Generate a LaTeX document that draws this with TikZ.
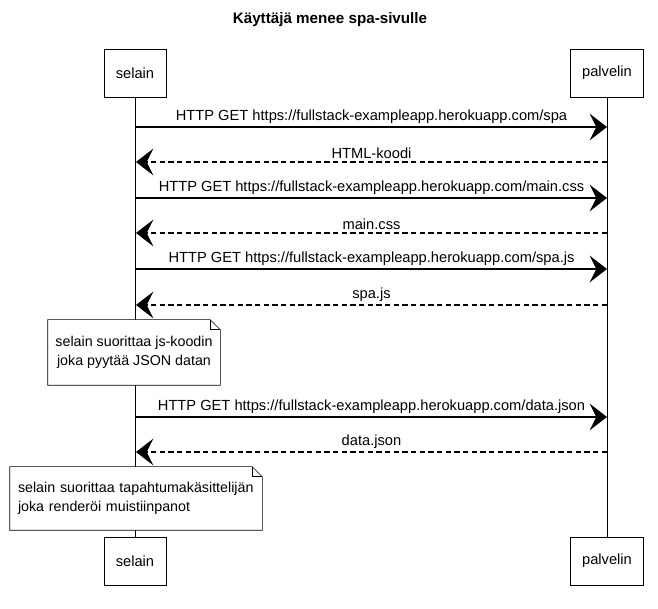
\documentclass[tikz,border=0pt]{standalone}
\usepackage{fontspec}
\setmainfont{Liberation Sans}
\usetikzlibrary{arrows.meta,positioning}
\tikzset{
  actor/.style={draw,fill=white,minimum height=36pt,inner sep=0pt},
  lifeline/.style={thin},
  req/.style={-{Stealth[length=13pt,width=20pt,inset=5pt]},line width=1pt},
  resp/.style={req,line width=.8pt,dash pattern=on 4pt off 2.5pt},
  msg/.style={above=1pt,inner sep=1pt},
  notebox/.style={fill=white,inner ysep=0pt,font=\fontsize{10.7}{14}\selectfont}
}
\begin{document}
\begin{tikzpicture}[x=.75pt,y=-.75pt,font=\fontsize{11}{13}\selectfont]
\useasboundingbox (0,0) rectangle (658,609);
\node[font=\fontsize{11.4}{13}\selectfont\bfseries] (title) at (330,20) {Käyttäjä menee spa-sivulle};
% osallistujat
\node[actor,minimum width=46.5pt] (sel) at (135,73) {selain};
\node[actor,minimum width=54.75pt] (pal) at (607,73) {palvelin};
\node[actor,minimum width=46.5pt] (selb) at (135,561) {selain};
\node[actor,minimum width=54.75pt] (palb) at (607,561) {palvelin};
\draw[lifeline] (sel) -- (selb);
\draw[lifeline] (pal) -- (palb);
% pyynnot
\foreach \i/\y/\res in {1/127/spa,3/198/main.css,5/269/spa.js,8/417/data.json}{
  \coordinate (s\i) at (136,\y);
  \coordinate (p\i) at (607,\y);
  \draw[req] (s\i) -- node[msg]{HTTP GET https://fullstack-exampleapp.herokuapp.com/\res} (p\i);
}
% vastaukset
\foreach \i/\y/\res in {2/162/HTML-koodi,4/233/main.css,6/305/spa.js,9/452/data.json}{
  \coordinate (s\i) at (136,\y);
  \coordinate (p\i) at (607,\y);
  \draw[resp] (p\i) -- node[msg]{\res} (s\i);
}
% muistiinpanot
\node[notebox,align=center,minimum width=129pt,minimum height=48.75pt] (n1) at (134,352.5)
  {selain suorittaa js-koodin\\joka pyytää JSON datan};
\draw (n1.north west) -- ([xshift=-7.5pt]n1.north east) -- ([yshift=-7.5pt]n1.north east)
  -- (n1.south east) -- (n1.south west) -- cycle;
\draw ([xshift=-7.5pt]n1.north east) |- ([yshift=-7.5pt]n1.north east);
\node[notebox,align=left,text width=177pt,inner xsep=6pt,minimum height=47.25pt] (n2) at (136,498.5)
  {selain suorittaa tapahtumakäsittelijän\\joka renderöi muistiinpanot};
\draw (n2.north west) -- ([xshift=-7.5pt]n2.north east) -- ([yshift=-7.5pt]n2.north east)
  -- (n2.south east) -- (n2.south west) -- cycle;
\draw ([xshift=-7.5pt]n2.north east) |- ([yshift=-7.5pt]n2.north east);
\end{tikzpicture}
\end{document}
